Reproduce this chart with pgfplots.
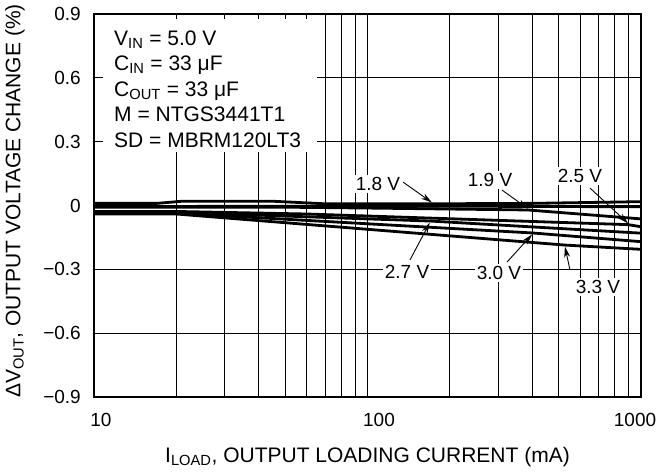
\documentclass[border=0pt]{standalone}
\usepackage{fontspec}
\setmainfont{Liberation Sans}
\usepackage{pgfplots}
\pgfplotsset{compat=1.18}
\usetikzlibrary{arrows.meta}
\tikzset{curve/.style={black, line width=2.8bp, mark=none}}

\begin{document}
\fontsize{21bp}{25bp}\selectfont
\begin{tikzpicture}
\useasboundingbox (-94bp,-77bp) rectangle (565bp,397bp);
\begin{axis}[
 at={(0,0)}, anchor=south west,
 scale only axis, width=547bp, height=383bp,
 xmode=log, xmin=10, xmax=1000, ymin=-0.9, ymax=0.9,
 xtick={10,100,1000},
 xticklabels={\hspace*{14bp}10,\hspace*{23bp}100,1000\hspace*{12bp}},
 ytick={-0.9,-0.6,-0.3,0,0.3,0.6,0.9},
 yticklabels={−0.9,−0.6,−0.3,0,0.3,0.6,0.9},
 xmajorgrids=true, xminorgrids=true, ymajorgrids=true,
 major grid style={black, line width=0.8bp},
 minor grid style={black, line width=0.8bp},
 major tick length=0pt, minor tick length=0pt,
 axis line style={line width=1.6bp},
 ticklabel style={font=\fontsize{19bp}{22bp}\selectfont},
 yticklabel style={xshift=-6bp},
 xticklabel style={yshift=-9bp},
]
% series
\addplot[curve] coordinates {(10,0.010) (17,0.010) (21,0.020) (45,0.020) (70,0.008) (172,0.008) (400,0.010) (1000,0.018)};
\addplot[curve] coordinates {(10,-0.005) (100,-0.003) (300,-0.004) (1000,-0.006)};
\addplot[curve] coordinates {(10,-0.008) (50,-0.008) (100,-0.012) (386,-0.021) (1000,-0.063)};
\addplot[curve] coordinates {(10,-0.028) (20,-0.028) (60,-0.040) (897,-0.090) (1000,-0.100)};
\addplot[curve] coordinates {(10,-0.032) (20,-0.032) (169,-0.073) (1000,-0.130)};
\addplot[curve] coordinates {(10,-0.036) (20,-0.036) (400,-0.129) (1000,-0.170)};
\addplot[curve] coordinates {(10,-0.040) (20,-0.040) (527,-0.186) (1000,-0.206)};

% conditions box
\fill[white] (rel axis cs:0.0165,0.64) rectangle (rel axis cs:0.4077,0.987);
\begin{scope}[every node/.style={anchor=base west, inner sep=0pt}]
\node at (rel axis cs:0.0366,0.9178) {V\textsubscript{IN} = 5.0 V};
\node at (rel axis cs:0.0366,0.8515) {C\textsubscript{IN} = 33 μF};
\node at (rel axis cs:0.0366,0.7852) {C\textsubscript{OUT} = 33 μF};
\node at (rel axis cs:0.0366,0.7189) {M = NTGS3441T1};
\node at (rel axis cs:0.0366,0.6525) {SD = MBRM120LT3};
\end{scope}

% curve labels
\begin{scope}[every node/.style={fill=white, inner sep=2bp, font=\fontsize{19bp}{22bp}\selectfont}]
\node at (axis cs:109.2,0.101) {1.8 V};
\node at (axis cs:280.5,0.120) {1.9 V};
\node at (axis cs:598.4,0.139) {2.5 V};
\node at (axis cs:139.5,-0.3125) {2.7 V};
\node at (axis cs:302.5,-0.317) {3.0 V};
\node at (axis cs:696.3,-0.383) {3.3 V};
\end{scope}
\begin{scope}[line width=0.9bp, -{Stealth[length=11bp,width=6bp]}]
\draw (axis cs:134.9,0.110) -- (axis cs:172,0.014);
\draw (axis cs:310,0.073) -- (axis cs:386,-0.015);
\draw (axis cs:651,0.082) -- (axis cs:897,-0.084);
\draw (axis cs:143,-0.256) -- (axis cs:169,-0.080);
\draw (axis cs:323.6,-0.266) -- (axis cs:400,-0.136);
\draw (axis cs:550,-0.303) -- (axis cs:527,-0.193);
\end{scope}
\end{axis}
\node at (273.5bp,-60bp) {I\textsubscript{LOAD}, OUTPUT LOADING CURRENT (mA)};
\node[rotate=90] at (-79bp,196bp) {ΔV\textsubscript{OUT}, OUTPUT VOLTAGE CHANGE (\%)};
\end{tikzpicture}
\end{document}
